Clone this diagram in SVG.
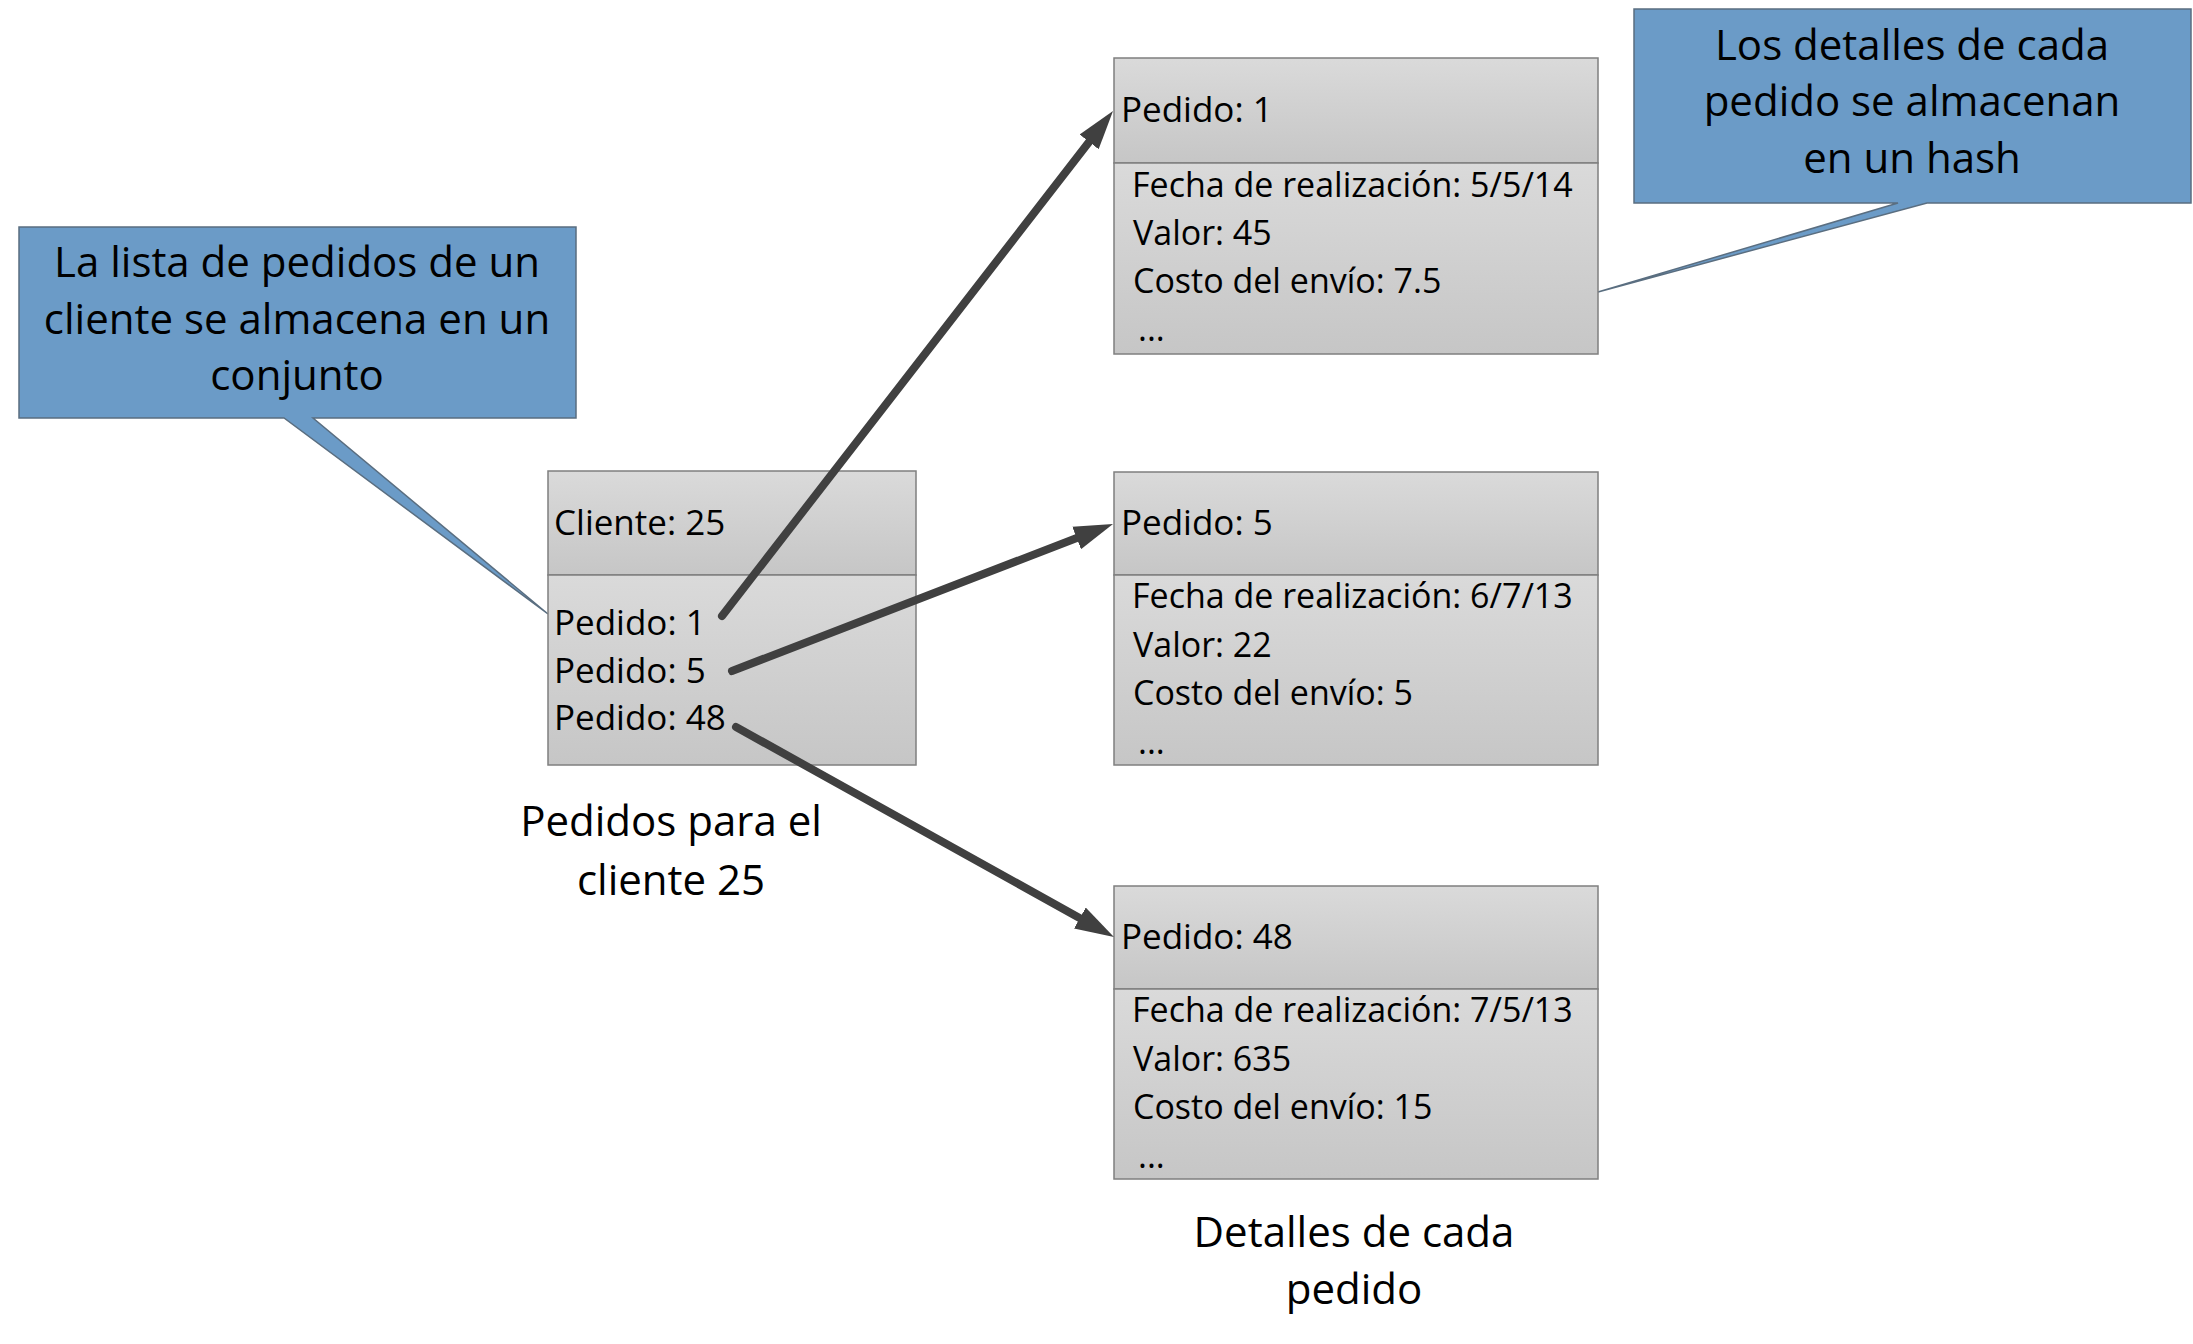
<svg xmlns="http://www.w3.org/2000/svg" width="2193" height="1344" viewBox="0 0 2193 1344">
<defs>
<linearGradient id="g" x1="0" y1="0" x2="0" y2="1">
<stop offset="0" stop-color="#dadada"/>
<stop offset="1" stop-color="#c6c6c6"/>
</linearGradient>
<marker id="ah" markerUnits="userSpaceOnUse" markerWidth="42" markerHeight="26" viewBox="0 0 42 26" refX="14" refY="13" orient="auto">
<path d="M0,1 L39,13 L0,25 z" fill="#404040"/>
</marker>
</defs>
<style>
.sec{fill:url(#g);stroke:#7f7f7f;stroke-width:1.5}
.call{fill:#6b9bc7;stroke:#5a6e80;stroke-width:1.5}
.t{font-family:"Open Sans","Noto Sans",sans-serif;font-size:35px;fill:#000}
.d{font-family:"Open Sans","Noto Sans",sans-serif;font-size:34px;fill:#000}
.ct{font-family:"Open Sans","Noto Sans",sans-serif;font-size:42px;fill:#000;text-anchor:middle}
.arr{stroke:#404040;stroke-width:8;stroke-linecap:round;fill:none;marker-end:url(#ah)}
</style>
<rect width="2193" height="1344" fill="#fff"/>

<g id="callout-left">
<path class="call" d="M19,227 L576,227 L576,418 L313,418 L548,614 L284,418 L19,418 Z"/>
<text class="ct" x="297" y="277">La lista de pedidos de un</text>
<text class="ct" x="297" y="334">cliente se almacena en un</text>
<text class="ct" x="297" y="390">conjunto</text>
</g>

<g id="callout-right">
<path class="call" d="M1634,9 L2191,9 L2191,203 L1927,203 L1598,292 L1898,203 L1634,203 Z"/>
<text class="ct" x="1912" y="60">Los detalles de cada</text>
<text class="ct" x="1912" y="116">pedido se almacenan</text>
<text class="ct" x="1912" y="173">en un hash</text>
</g>

<g id="cliente">
<rect class="sec" x="548" y="471" width="368" height="104"/>
<rect class="sec" x="548" y="575" width="368" height="190"/>
<text class="t" x="554" y="535">Cliente: 25</text>
<text class="t" x="554" y="635">Pedido: 1</text>
<text class="t" x="554" y="683">Pedido: 5</text>
<text class="t" x="554" y="730">Pedido: 48</text>
</g>

<g id="pedido1">
<rect class="sec" x="1114" y="58" width="484" height="105"/>
<rect class="sec" x="1114" y="163" width="484" height="191"/>
<text class="t" x="1121" y="122">Pedido: 1</text>
<text class="d" x="1132" y="197">Fecha de realización: 5/5/14</text>
<text class="d" x="1133" y="245">Valor: 45</text>
<text class="d" x="1133" y="293">Costo del envío: 7.5</text>
<text class="d" x="1138" y="341">...</text>
</g>

<g id="pedido5">
<rect class="sec" x="1114" y="472" width="484" height="103"/>
<rect class="sec" x="1114" y="575" width="484" height="190"/>
<text class="t" x="1121" y="535">Pedido: 5</text>
<text class="d" x="1132" y="608">Fecha de realización: 6/7/13</text>
<text class="d" x="1133" y="657">Valor: 22</text>
<text class="d" x="1133" y="705">Costo del envío: 5</text>
<text class="d" x="1138" y="754">...</text>
</g>

<g id="pedido48">
<rect class="sec" x="1114" y="886" width="484" height="103"/>
<rect class="sec" x="1114" y="989" width="484" height="190"/>
<text class="t" x="1121" y="949">Pedido: 48</text>
<text class="d" x="1132" y="1022">Fecha de realización: 7/5/13</text>
<text class="d" x="1133" y="1071">Valor: 635</text>
<text class="d" x="1133" y="1119">Costo del envío: 15</text>
<text class="d" x="1138" y="1168">...</text>
</g>

<g id="caption-cliente">
<text class="ct" x="671" y="836">Pedidos para el</text>
<text class="ct" x="671" y="895">cliente 25</text>
</g>

<g id="caption-detalles">
<text class="ct" x="1354" y="1247">Detalles de cada</text>
<text class="ct" x="1354" y="1304">pedido</text>
</g>

<g id="connectors">
<line class="arr" x1="722" y1="616" x2="1097.7" y2="130.8"/>
<line class="arr" x1="732" y1="671" x2="1089.7" y2="533"/>
<line class="arr" x1="736" y1="727" x2="1092.1" y2="924.9"/>
</g>
</svg>
